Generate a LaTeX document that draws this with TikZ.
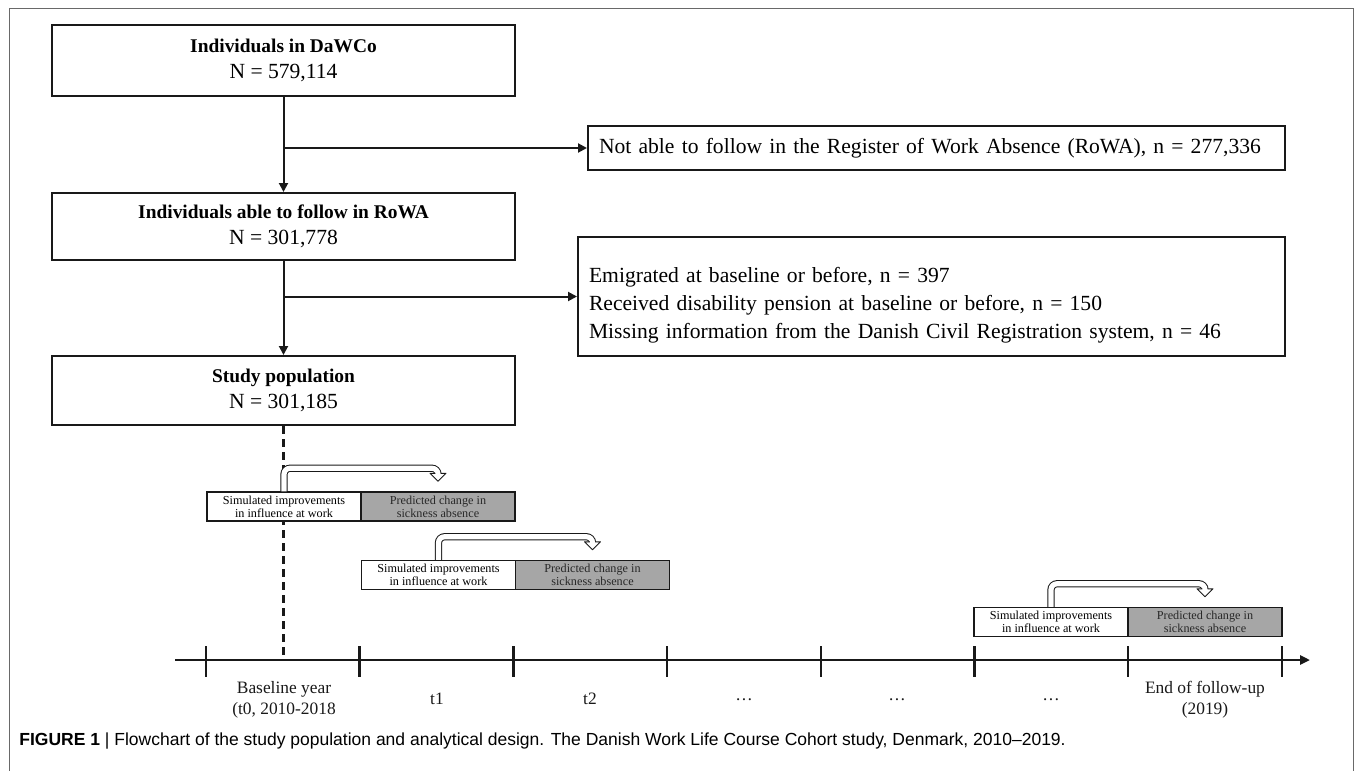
\documentclass[tikz,border=0pt]{standalone}
\usepackage{fontspec}
\setmainfont{Liberation Serif}
\newfontfamily\capfont{Liberation Sans}
\usepackage{tikz}
\usetikzlibrary{arrows.meta,positioning,calc}
\definecolor{InkBlack}{RGB}{25,25,25}
\definecolor{InkGray}{RGB}{40,40,40}
\definecolor{PredGray}{RGB}{166,166,166}
\definecolor{FrameGray}{RGB}{105,105,105}

\begin{document}
\begin{tikzpicture}[x=0.5pt,y=-0.5pt,
    mainbox/.style={draw=InkBlack,line width=1pt,fill=white,minimum width=231.5pt,minimum height=34.5pt,inner sep=0pt,align=center,font=\fontsize{10.8}{13}\selectfont},
    exclbox/.style={draw=InkBlack,line width=1pt,fill=white,anchor=west,inner xsep=5.5pt,inner ysep=0pt,align=left,font=\fontsize{10.8}{14}\selectfont},
    simbox/.style={draw=InkBlack,line width=0.75pt,fill=white,minimum width=77pt,minimum height=14.5pt,inner sep=0pt,align=center,font=\fontsize{6.1}{6.5}\selectfont},
    predbox/.style={simbox,fill=PredGray,text=InkGray},
    flowline/.style={draw=InkBlack,line width=1pt,-{Triangle[length=4.5pt,width=4.5pt]}},
    uturn/.style={draw=InkBlack,line width=0.5pt,double=white,double distance=2.6pt,rounded corners=3pt},
    tick/.style={draw=InkBlack,line width=1.25pt},
    tlabel/.style={font=\fontsize{8.7}{10.5}\selectfont,align=center,text=InkBlack}]
  \useasboundingbox (0,0) rectangle (1355,771);
  \draw[FrameGray,line width=0.75pt] (9.5,771) -- (9.5,8.5) -- (1353.5,8.5) -- (1353.5,771);

  \node[mainbox,minimum height=35.5pt] (cohort) at (283.5,60.5) {{\fontsize{9.7}{13}\selectfont\bfseries Individuals in DaWCo}\\N = 579,114};
  \node[mainbox,minimum height=33.5pt] (rowa) at (283.5,226.5) {{\fontsize{9.7}{13}\selectfont\bfseries Individuals able to follow in RoWA}\\N = 301,778};
  \node[mainbox] (studypop) at (283.5,390.5) {{\fontsize{9.7}{13}\selectfont\bfseries Study population}\\N = 301,185};
  \node[exclbox,text width=337.5pt,minimum height=22pt] (notrowa) at (587,148) {Not able to follow in the Register of Work Absence (RoWA), n = 277,336};
  \node[exclbox,text width=342.5pt,minimum height=59.5pt] (excluded) at (577,296.5) {\rule{0pt}{16pt}Emigrated at baseline or before, n = 397\\Received disability pension at baseline or before, n = 150\\Missing information from the Danish Civil Registration system, n = 46};

  \draw[flowline] (cohort.south) -- (rowa.north);
  \draw[flowline] (cohort.south |- notrowa.west) -- (notrowa.west);
  \draw[flowline] (rowa.south) -- (studypop.north);
  \draw[flowline] (rowa.south |- excluded.west) -- (excluded.west);

  \coordinate (tlstart) at (175,660);
  \coordinate (tlend) at (1310,660);
  \draw[InkBlack,line width=1.25pt,dash pattern=on 4pt off 2.5pt] (studypop.south) -- (studypop.south |- tlstart);

  \node[simbox] (simA) at (284,506.5) {Simulated improvements\\in influence at work};
  \node[predbox,right=-0.75pt of simA] (predA) {Predicted change in\\sickness absence};
  \node[simbox] (simB) at (438.5,575) {Simulated improvements\\in influence at work};
  \node[predbox,right=-0.75pt of simB] (predB) {Predicted change in\\sickness absence};
  \node[simbox] (simC) at (1051,622) {Simulated improvements\\in influence at work};
  \node[predbox,right=-0.75pt of simC] (predC) {Predicted change in\\sickness absence};

  \foreach \s/\p in {simA/predA,simB/predB,simC/predC} {
    \draw[uturn] (\s.north) -- ++(0,-23) -| ($(\p.north)+(0,-18)$);
    \fill[white] ($(\p.north)+(-8,-18)$) -- ($(\p.north)+(0,-10)$) -- ($(\p.north)+(8,-18)$) -- cycle;
    \draw[InkBlack,line width=0.5pt,line join=round] ($(\p.north)+(-2.6,-18)$) -- ($(\p.north)+(-8,-18)$) -- ($(\p.north)+(0,-10)$) -- ($(\p.north)+(8,-18)$) -- ($(\p.north)+(2.6,-18)$);
  }

  \draw[tick,-{Triangle[length=5pt,width=4.5pt]}] (tlstart) -- (tlend);
  \foreach \i in {0,...,7} {
    \draw[tick] (206+153.7*\i,646) -- ++(0,31);
  }
  \node[tlabel] (base) at (284,700) {Baseline year\\(t0, 2010-2018};
  \node[tlabel] (tone) at (437,699) {t1};
  \node[tlabel] (ttwo) at (590,699) {t2};
  \foreach \x/\n in {744/dotsA,897/dotsB,1051/dotsC} {
    \node[tlabel] (\n) at (\x,700) {…};
  }
  \node[tlabel] (tend) at (1205,700) {End of follow-up\\(2019)};

  \node[anchor=west,inner sep=0pt,font=\capfont\fontsize{8.75}{10}\selectfont] (caption) at (19,741) {\textbf{FIGURE 1} | Flowchart of the study population and analytical design. The Danish Work Life Course Cohort study, Denmark, 2010–2019.};
\end{tikzpicture}
\end{document}
